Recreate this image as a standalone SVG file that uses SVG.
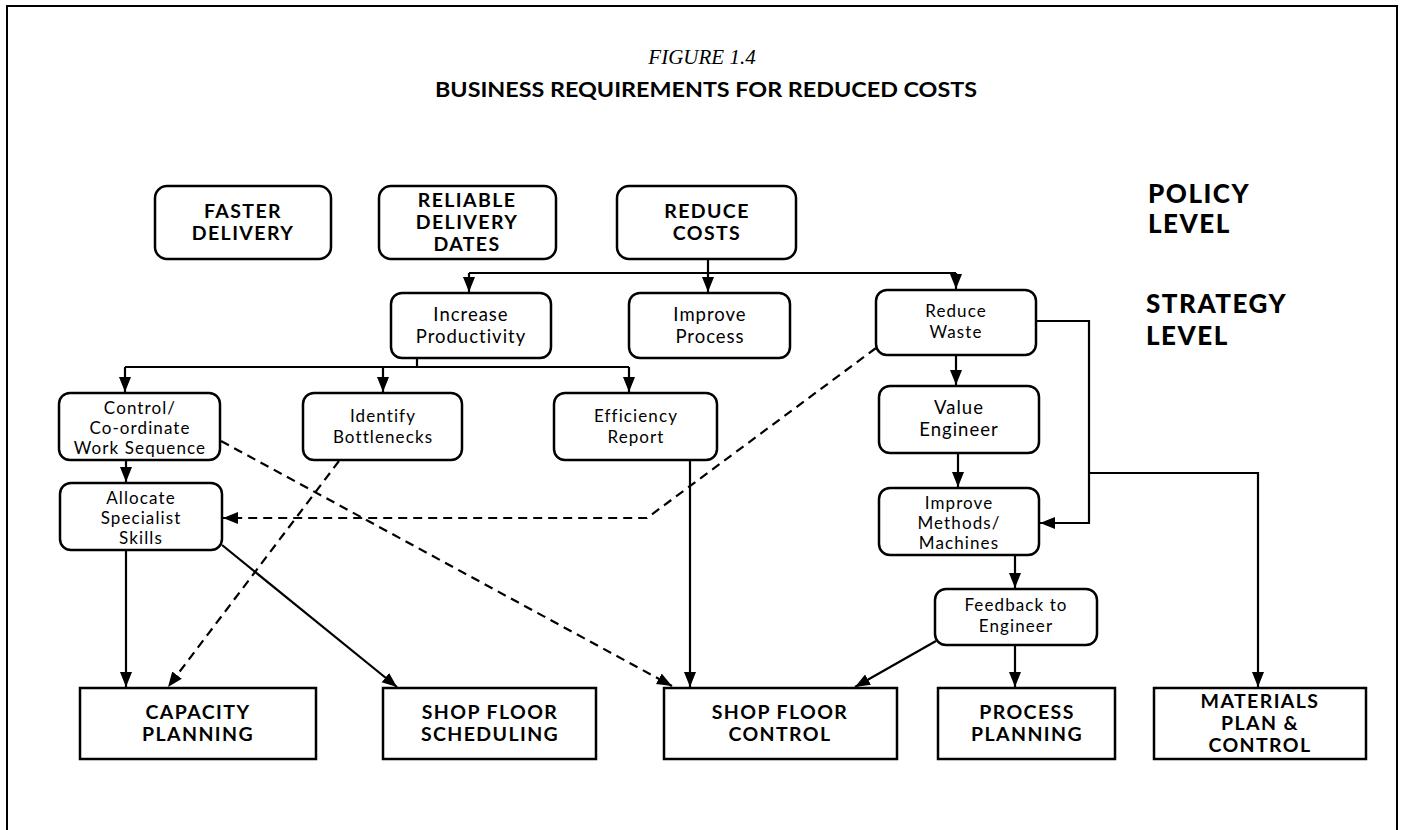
<svg xmlns="http://www.w3.org/2000/svg" width="1403" height="830" viewBox="0 0 1403 830">
<style>
.frame{fill:#fff;stroke:#000;stroke-width:2}
.rbox{fill:#fff;stroke:#000;stroke-width:2.5}
.sbox{fill:#fff;stroke:#000;stroke-width:2.5}
.ln{fill:none;stroke:#000;stroke-width:2.2}
.dash{fill:none;stroke:#000;stroke-width:2.2;stroke-dasharray:9 6}
.hb{font-family:Lato,"Liberation Sans",sans-serif;font-weight:bold;font-size:19.5px;letter-spacing:1.4px;text-anchor:middle;fill:#000}
.lv{font-family:Lato,"Liberation Sans",sans-serif;font-weight:900;font-size:26px;letter-spacing:1.5px;fill:#000}
.t{font-family:Lato,"Liberation Sans",sans-serif;font-size:18.5px;letter-spacing:1px;text-anchor:middle;fill:#000}
.ts{font-family:Lato,"Liberation Sans",sans-serif;font-size:17px;letter-spacing:1.1px;text-anchor:middle;fill:#000}
.fig{font-family:"Liberation Serif",serif;font-style:italic;font-size:21px;text-anchor:middle;fill:#000}
.ttl{font-family:Lato,"Liberation Sans",sans-serif;font-weight:bold;font-size:21px;text-anchor:middle;fill:#000}
</style>
<defs>
<marker id="ah" markerUnits="userSpaceOnUse" markerWidth="16" markerHeight="16" viewBox="0 0 16 16" refX="15" refY="8" orient="auto">
<path d="M0,2 L15,8 L0,14 Z" fill="#000"/>
</marker>
</defs>
<rect class="frame" x="7" y="6" width="1390" height="830"/>
<g id="title">
<text class="fig" x="702" y="64">FIGURE 1.4</text>
<text class="ttl" x="706" y="97" textLength="542" lengthAdjust="spacingAndGlyphs">BUSINESS REQUIREMENTS FOR REDUCED COSTS</text>
</g>
<g id="levels">
<text class="lv" x="1148" y="203">POLICY</text>
<text class="lv" x="1148" y="233">LEVEL</text>
<text class="lv" x="1146" y="313">STRATEGY</text>
<text class="lv" x="1146" y="345">LEVEL</text>
</g>
<g id="connectors">
<path class="ln" d="M708,260 V273"/>
<path class="ln" d="M469,273 H956"/>
<path class="ln" d="M469,273 V292" marker-end="url(#ah)"/>
<path class="ln" d="M708,273 V292" marker-end="url(#ah)"/>
<path class="ln" d="M956,273 V289" marker-end="url(#ah)"/>
<path class="ln" d="M417,358 V367"/>
<path class="ln" d="M125,367 H629"/>
<path class="ln" d="M125,367 V392" marker-end="url(#ah)"/>
<path class="ln" d="M383,367 V392" marker-end="url(#ah)"/>
<path class="ln" d="M629,367 V392" marker-end="url(#ah)"/>
<path class="ln" d="M956,355 V385" marker-end="url(#ah)"/>
<path class="ln" d="M958,453 V487" marker-end="url(#ah)"/>
<path class="ln" d="M1036,321 H1089 V523 H1040" marker-end="url(#ah)"/>
<path class="ln" d="M1089,473 H1258 V687" marker-end="url(#ah)"/>
<path class="ln" d="M126,460 V482" marker-end="url(#ah)"/>
<path class="ln" d="M126,550 V687" marker-end="url(#ah)"/>
<path class="ln" d="M222,545 L397,687" marker-end="url(#ah)"/>
<path class="ln" d="M690,460 V687" marker-end="url(#ah)"/>
<path class="ln" d="M1015,555 V588" marker-end="url(#ah)"/>
<path class="ln" d="M1015,645 V687" marker-end="url(#ah)"/>
<path class="ln" d="M936,641 L855,687" marker-end="url(#ah)"/>
<path class="dash" d="M876,348 L647,518 H223" marker-end="url(#ah)"/>
<path class="dash" d="M221,441 L672,686" marker-end="url(#ah)"/>
<path class="dash" d="M339,461 L168,687" marker-end="url(#ah)"/>
</g>
<g id="n-faster">
<rect class="rbox" x="155" y="186" width="176" height="73" rx="12"/>
<text class="hb" x="243" y="218">FASTER</text>
<text class="hb" x="243" y="240">DELIVERY</text>
</g>
<g id="n-reliable">
<rect class="rbox" x="379" y="186" width="177" height="73" rx="12"/>
<text class="hb" x="467" y="207">RELIABLE</text>
<text class="hb" x="467" y="229">DELIVERY</text>
<text class="hb" x="467" y="251">DATES</text>
</g>
<g id="n-reduce-costs">
<rect class="rbox" x="617" y="186" width="179" height="73" rx="12"/>
<text class="hb" x="707" y="218">REDUCE</text>
<text class="hb" x="707" y="240">COSTS</text>
</g>
<g id="n-increase">
<rect class="rbox" x="391" y="293" width="160" height="65" rx="11"/>
<text class="t" x="471" y="321">Increase</text>
<text class="t" x="471" y="343">Productivity</text>
</g>
<g id="n-improve-process">
<rect class="rbox" x="629" y="293" width="161" height="65" rx="11"/>
<text class="t" x="710" y="321">Improve</text>
<text class="t" x="710" y="343">Process</text>
</g>
<g id="n-reduce-waste">
<rect class="rbox" x="876" y="290" width="160" height="65" rx="11"/>
<text class="ts" x="956" y="317">Reduce</text>
<text class="ts" x="956" y="338">Waste</text>
</g>
<g id="n-control">
<rect class="rbox" x="59" y="393" width="161" height="67" rx="11"/>
<text class="ts" x="140" y="414">Control/</text>
<text class="ts" x="140" y="434">Co-ordinate</text>
<text class="ts" x="140" y="454">Work Sequence</text>
</g>
<g id="n-identify">
<rect class="rbox" x="303" y="393" width="159" height="67" rx="11"/>
<text class="ts" x="383" y="422">Identify</text>
<text class="ts" x="383" y="443">Bottlenecks</text>
</g>
<g id="n-efficiency">
<rect class="rbox" x="554" y="393" width="163" height="67" rx="11"/>
<text class="ts" x="636" y="422">Efficiency</text>
<text class="ts" x="636" y="443">Report</text>
</g>
<g id="n-value">
<rect class="rbox" x="879" y="386" width="160" height="67" rx="11"/>
<text class="t" x="959" y="414">Value</text>
<text class="t" x="959" y="436">Engineer</text>
</g>
<g id="n-allocate">
<rect class="rbox" x="60" y="483" width="162" height="67" rx="11"/>
<text class="ts" x="141" y="504">Allocate</text>
<text class="ts" x="141" y="524">Specialist</text>
<text class="ts" x="141" y="544">Skills</text>
</g>
<g id="n-improve-methods">
<rect class="rbox" x="879" y="488" width="160" height="67" rx="11"/>
<text class="ts" x="959" y="509">Improve</text>
<text class="ts" x="959" y="529">Methods/</text>
<text class="ts" x="959" y="549">Machines</text>
</g>
<g id="n-feedback">
<rect class="rbox" x="935" y="589" width="162" height="56" rx="11"/>
<text class="ts" x="1016" y="611">Feedback to</text>
<text class="ts" x="1016" y="632">Engineer</text>
</g>
<g id="n-capacity">
<rect class="sbox" x="80" y="688" width="236" height="71"/>
<text class="hb" x="198" y="719">CAPACITY</text>
<text class="hb" x="198" y="741">PLANNING</text>
</g>
<g id="n-sf-scheduling">
<rect class="sbox" x="383" y="688" width="213" height="71"/>
<text class="hb" x="490" y="719">SHOP FLOOR</text>
<text class="hb" x="490" y="741">SCHEDULING</text>
</g>
<g id="n-sf-control">
<rect class="sbox" x="664" y="688" width="233" height="71"/>
<text class="hb" x="780" y="719">SHOP FLOOR</text>
<text class="hb" x="780" y="741">CONTROL</text>
</g>
<g id="n-process-planning">
<rect class="sbox" x="938" y="688" width="177" height="71"/>
<text class="hb" x="1027" y="719">PROCESS</text>
<text class="hb" x="1027" y="741">PLANNING</text>
</g>
<g id="n-materials">
<rect class="sbox" x="1154" y="688" width="212" height="71"/>
<text class="hb" x="1260" y="708">MATERIALS</text>
<text class="hb" x="1260" y="730">PLAN &amp;</text>
<text class="hb" x="1260" y="752">CONTROL</text>
</g>
</svg>
